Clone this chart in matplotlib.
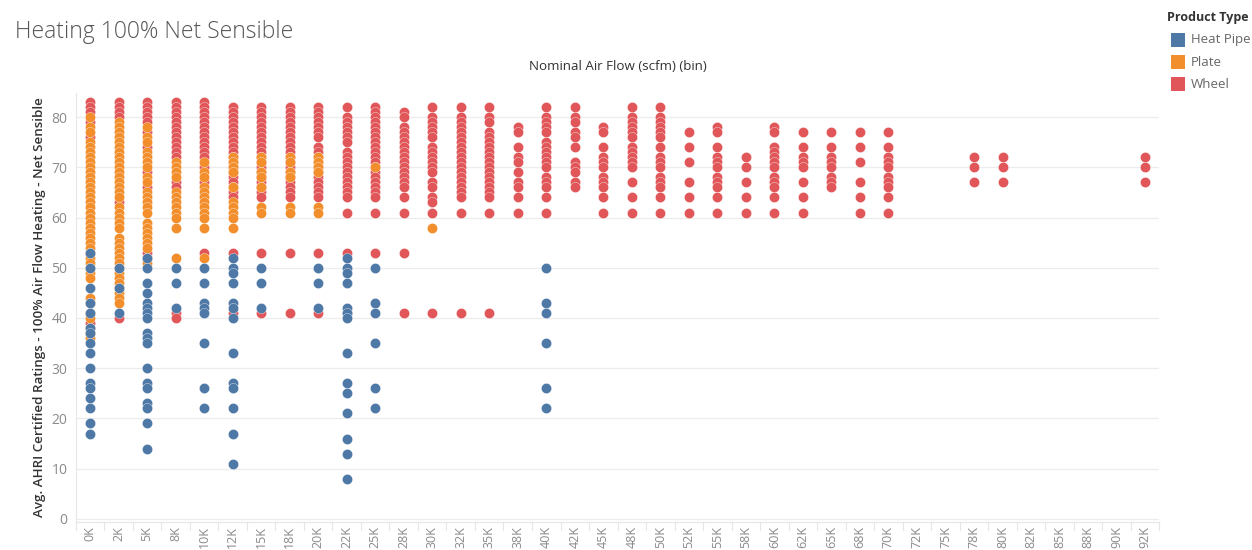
import matplotlib
matplotlib.use('Agg')
import matplotlib.pyplot as plt
from matplotlib.patches import Rectangle

plt.rcParams['font.family'] = ['Open Sans', 'DejaVu Sans']

# x-axis bins (scfm, 2.5K wide, labels truncated like the source)
bins = ['0K', '2K', '5K', '8K', '10K', '12K', '15K', '18K', '20K', '22K',
        '25K', '28K', '30K', '32K', '35K', '38K', '40K', '42K', '45K', '48K',
        '50K', '52K', '55K', '58K', '60K', '62K', '65K', '68K', '70K', '72K',
        '75K', '78K', '80K', '82K', '85K', '88K', '90K', '92K']

# Avg. net sensible heating (%) per product
wheel = {
    '0K': [83, 82, 81, 79, 76, 39],
    '2K': [83, 82, 81, 80, 63, 40],
    '5K': [83, 82, 81, 80, 79, 77, 74, 69, 66, 53],
    '8K': [83, 82, 81, 80, 79, 78, 77, 76, 75, 74, 73, 72, 67, 66, 41, 40],
    '10K': [83, 82, 81, 80, 79, 78, 77, 76, 75, 74, 73, 72, 70, 67, 53],
    '12K': [82, 81, 80, 79, 78, 77, 76, 75, 74, 73, 72, 71, 70, 69, 68, 67,
            66, 65, 64, 53, 41],
    '15K': [82, 81, 80, 79, 78, 77, 76, 75, 74, 73, 72, 71, 70, 69, 68, 67,
            66, 65, 64, 53, 41],
    '18K': [82, 81, 80, 79, 78, 77, 76, 75, 74, 73, 72, 71, 70, 69, 68, 67,
            66, 65, 64, 53, 41],
    '20K': [82, 81, 80, 79, 78, 77, 76, 74, 73, 72, 71, 70, 69, 68, 67, 66,
            65, 64, 53, 41],
    '22K': [82, 80, 79, 78, 77, 76, 75, 73, 72, 71, 70, 69, 68, 67, 66, 65,
            64, 61, 53, 41],
    '25K': [82, 81, 80, 79, 78, 77, 76, 75, 74, 73, 72, 71, 70, 69, 68, 67,
            66, 65, 64, 61, 53],
    '28K': [81, 80, 78, 77, 76, 75, 74, 73, 72, 71, 70, 69, 68, 67, 66, 64,
            61, 53, 41],
    '30K': [82, 80, 79, 78, 77, 76, 74, 73, 72, 71, 70, 69, 67, 66, 64, 63,
            61, 41],
    '32K': [82, 80, 79, 78, 77, 76, 75, 74, 73, 72, 71, 70, 69, 68, 67, 66,
            65, 64, 61, 41],
    '35K': [82, 80, 79, 77, 76, 75, 74, 73, 72, 71, 70, 69, 68, 67, 66, 65,
            64, 61, 41],
    '38K': [78, 77, 74, 72, 71, 69, 67, 66, 64, 61],
    '40K': [82, 80, 79, 78, 77, 75, 74, 73, 72, 71, 70, 68, 67, 66, 64, 61],
    '42K': [82, 80, 79, 77, 76, 74, 71, 70, 69, 67, 66],
    '45K': [78, 77, 74, 72, 71, 70, 68, 67, 66, 64, 61],
    '48K': [82, 80, 79, 78, 77, 76, 74, 73, 72, 71, 70, 67, 64, 61],
    '50K': [82, 80, 79, 78, 77, 76, 74, 72, 71, 70, 68, 67, 66, 64, 61],
    '52K': [77, 74, 71, 67, 64, 61],
    '55K': [78, 77, 74, 72, 71, 70, 68, 67, 66, 64, 61],
    '58K': [72, 70, 67, 64, 61],
    '60K': [78, 77, 74, 73, 72, 71, 70, 68, 67, 66, 64, 61],
    '62K': [77, 74, 72, 71, 70, 67, 64, 61],
    '65K': [77, 74, 72, 71, 70, 68, 67, 66],
    '68K': [77, 74, 71, 67, 64, 61],
    '70K': [77, 74, 72, 71, 70, 68, 67, 66, 64, 61],
    '78K': [72, 70, 67],
    '80K': [72, 70, 67],
    '92K': [72, 70, 67],
}

plate = {
    '0K': [80, 78, 77, 75, 74, 73, 72, 71, 70, 69, 68, 67, 66, 65, 64, 63,
           62, 61, 60, 59, 58, 57, 56, 55, 54, 53, 52, 51, 50, 49, 48, 44,
           43, 41, 40, 38, 37, 36],
    '2K': [79, 78, 77, 76, 75, 74, 73, 72, 71, 70, 69, 68, 67, 66, 65, 64,
           62, 61, 60, 59, 58, 56, 55, 54, 53, 52, 51, 50, 49, 48, 47, 46,
           45, 44, 43],
    '5K': [78, 76, 75, 73, 72, 71, 70, 68, 67, 65, 64, 63, 62, 61, 59, 58,
           57, 56, 55, 54, 52, 51],
    '8K': [71, 70, 69, 68, 65, 64, 63, 62, 61, 60, 58, 52],
    '10K': [71, 69, 68, 66, 65, 64, 63, 62, 61, 60, 58, 52],
    '12K': [72, 71, 70, 69, 66, 63, 62, 61, 60, 58],
    '15K': [72, 71, 69, 68, 66, 62, 61],
    '18K': [72, 71, 69, 68, 62, 61],
    '20K': [72, 71, 70, 69, 62, 61],
    '25K': [70],
    '30K': [58],
}

heat_pipe = {
    '0K': [53, 50, 46, 43, 41, 38, 37, 35, 33, 30, 27, 26, 24, 22, 19, 17],
    '2K': [50, 46, 41],
    '5K': [52, 50, 47, 45, 43, 42, 41, 40, 37, 36, 35, 30, 27, 26, 23, 22,
           19, 14],
    '8K': [50, 47, 42],
    '10K': [50, 47, 43, 42, 41, 35, 26, 22],
    '12K': [52, 50, 49, 47, 43, 42, 40, 33, 27, 26, 22, 17, 11],
    '15K': [50, 47, 42],
    '20K': [50, 47, 42],
    '22K': [52, 50, 49, 47, 42, 41, 40, 33, 27, 25, 21, 16, 13, 8],
    '25K': [50, 43, 41, 35, 26, 22],
    '40K': [50, 43, 41, 35, 26, 22],
}

series = [('Wheel', wheel, '#E15759'),
          ('Plate', plate, '#F28E2B'),
          ('Heat Pipe', heat_pipe, '#4E79A7')]

fig = plt.figure(figsize=(12.52, 5.5), dpi=100)
ax = fig.add_axes([0.0605, 0.051, 0.8655, 0.780])

for name, data, color in series:
    xs, ys = [], []
    for b, vals in data.items():
        i = bins.index(b)
        xs += [i] * len(vals)
        ys += vals
    ax.scatter(xs, ys, s=54, color=color, edgecolors='white',
               linewidths=0.25, zorder=3)

ax.set_xlim(-0.5, len(bins) - 0.5)
ax.set_ylim(-0.6, 84.8)
ax.set_yticks(range(0, 81, 10))
ax.set_xticks(range(len(bins)))
ax.set_xticklabels(bins, rotation=90)
ax.tick_params(axis='y', length=0, colors='#8a8a8a', labelsize=10, pad=6)
ax.tick_params(axis='x', length=0, colors='#8a8a8a', labelsize=9, pad=3)
ax.grid(axis='y', color='#ececec', linewidth=0.9)
ax.set_axisbelow(True)
for side in ['top', 'right']:
    ax.spines[side].set_visible(False)
ax.spines['left'].set_color('#e6e6e6')
ax.spines['bottom'].set_color('#e6e6e6')

# small dividers between the x bins
for i in range(len(bins) + 1):
    ax.plot([i - 0.5, i - 0.5], [-0.6, -2.2], color='#e6e6e6', lw=0.8,
            clip_on=False)

ax.set_ylabel('Avg. AHRI Certified Ratings - 100% Air Flow Heating - Net Sensible',
              fontsize=9.6, color='#333333', fontweight='semibold', labelpad=4)

fig.text(0.012, 0.942, 'Heating 100% Net Sensible', fontsize=16.5,
         color='#555555', fontweight='light', va='center')
fig.text(0.4935, 0.88, 'Nominal Air Flow (scfm) (bin)', fontsize=9.6,
         color='#333333', ha='center', va='center')

# legend
fig.text(1167 / 1252, 0.969, 'Product Type', fontsize=9, color='#333333',
         fontweight='bold', va='center')
for k, (name, color) in enumerate([('Heat Pipe', '#4E79A7'),
                                    ('Plate', '#F28E2B'),
                                    ('Wheel', '#E15759')]):
    yc = 1 - (40 + 22 * k) / 550
    fig.patches.append(Rectangle((1171 / 1252, yc - 7 / 550), 14 / 1252,
                                 14 / 550, transform=fig.transFigure,
                                 facecolor=color, edgecolor='none'))
    fig.text(1191 / 1252, yc, name, fontsize=9.5, color='#666666',
             va='center')

fig.savefig('out.png', dpi=100)
